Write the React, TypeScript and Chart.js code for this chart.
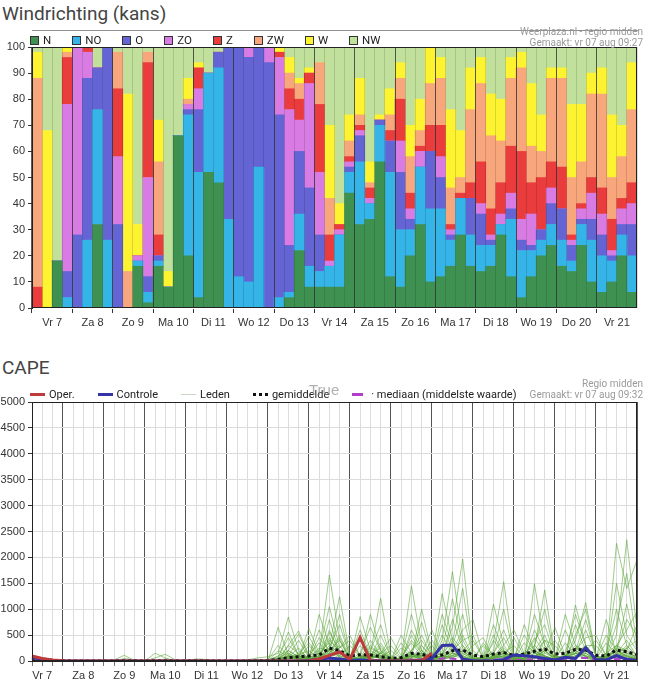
import React, { useEffect, useRef } from "react";
import { Chart, registerables } from "chart.js";

Chart.register(...registerables);

// ---------- shared axis labels ----------
const DAYS = ["Vr 7", "Za 8", "Zo 9", "Ma 10", "Di 11", "Wo 12", "Do 13", "Vr 14", "Za 15", "Zo 16", "Ma 17", "Di 18", "Wo 19", "Do 20", "Vr 21"];
const HOURS = ["00", "06", "12", "18"];

// ---------- Windrichting (kans), 4 bars per day, percent ----------
const WIND_NAMES = ["N", "NO", "O", "ZO", "Z", "ZW", "W", "NW"];
const WIND_N = [0,0,18,0, 0,0,32,0, 0,0,16,2, 16,8,66,20, 4,52,48,0, 0,0,0,0, 0,4,22,8, 8,8,8,44, 32,34,56,12, 8,20,32,10, 12,16,28,16, 14,16,28,12, 4,12,20,24, 16,14,24,10, 6,10,20,6];
const WIND_NO = [0,0,0,4, 0,26,44,26, 0,0,2,4, 2,0,0,54, 48,38,44,34, 12,10,54,0, 4,2,14,8, 6,8,20,8, 24,6,14,40, 22,10,22,28, 26,10,14,12, 10,8,4,22, 18,10,6,8, 10,4,8,16, 14,8,8,14];
const WIND_O = [0,0,0,10, 28,62,16,74, 32,0,0,6, 2,0,0,2, 24,0,6,66, 88,86,46,94, 70,18,24,30, 14,0,0,2, 10,0,2,12, 22,4,0,22, 12,2,0,14, 12,2,0,4, 4,2,4,8, 12,6,2,8, 8,2,4,12];
const WIND_ZO = [0,0,0,64, 72,10,0,0, 26,0,2,38, 0,0,0,2, 8,0,0,0, 0,4,0,6, 22,52,12,40, 24,2,2,2, 2,2,0,0, 12,4,6,0, 8,2,0,0, 4,2,4,6, 8,12,0,6, 0,2,4,10, 8,2,6,8];
const WIND_Z = [8,0,0,18, 0,2,0,0, 26,0,0,44, 8,0,0,0, 8,0,0,0, 0,0,0,0, 2,8,8,4, 26,10,2,2, 2,4,0,4, 16,6,2,10, 12,2,2,6, 16,10,12,18, 26,12,20,10, 16,2,2,6, 10,12,4,8];
const WIND_ZW = [80,0,0,2, 0,0,0,0, 14,14,0,4, 28,0,0,2, 0,0,0,0, 0,0,0,0, 0,6,6,0, 16,14,0,6, 4,2,0,6, 8,14,6,16, 18,14,6,28, 30,28,16,26, 32,14,10,32, 34,22,16,32, 36,16,16,28];
const WIND_W = [10,68,0,2, 0,0,0,0, 0,68,12,0, 16,6,0,8, 2,0,0,0, 0,0,0,0, 2,6,2,2, 0,28,8,10, 14,8,2,10, 6,12,12,14, 8,30,18,16, 10,16,16,8, 6,24,14,4, 4,28,22,8, 10,24,12,18];
const WIND_NW = [2,32,82,0, 0,0,8,0, 2,18,68,2, 28,86,34,12, 6,10,2,0, 0,0,0,0, 0,4,12,8, 6,30,60,26, 12,44,26,16, 6,30,20,0, 4,24,32,8, 4,18,20,4, 2,14,26,8, 8,22,22,10, 8,26,30,6];
const WIND_SERIES = [WIND_N, WIND_NO, WIND_O, WIND_ZO, WIND_Z, WIND_ZW, WIND_W, WIND_NW];
const WIND_COLORS = ["#3f9152", "#35b4e8", "#6464d4", "#d87ce4", "#ea3c3c", "#f7a77b", "#fdf330", "#c0e09c"];

// ---------- CAPE, 6-hourly from Vr 7 06u ----------
const CAPE_OPER = [95,50,20,5, 0,0,0,0, 0,0,0,0, 0,0,0,0, 0,0,0,0, 0,0,0,0, 0,0,0,0, 40,110,175,30, 457,5,0,0, 0,0,10,150, null,null,null,null, null,null,null,null, null,null,null,null, null,null,null,null, null,null,null,null];
const CAPE_CONTROLE = [70,40,15,5, 0,0,0,0, 0,0,0,0, 0,0,0,0, 0,0,0,0, 0,0,0,0, 0,0,0,10, 30,60,40,10, 20,10,5,0, 0,5,20,50, 300,310,40,5, 0,5,30,116, 100,84,50,20, 70,50,258,30, 20,103,30,15];
const CAPE_GEMIDDELDE = [60,30,12,4, 2,2,2,2, 2,8,3,2, 10,12,3,2, 5,4,1,1, 1,1,6,10, 30,64,84,97, 116,245,200,97, 122,116,84,52, 64,148,129,84, 116,200,212,116, 84,135,161,110, 135,187,232,135, 148,225,212,110, 97,212,180,122];
const CAPE_MEDIAAN = [50,20,5,0, 0,0,0,0, 0,0,0,0, 0,0,0,0, 0,0,0,0, 0,0,0,0, 0,0,0,10, 20,40,30,10, 20,20,15,5, 10,30,25,15, 50,45,30,10, 10,25,30,15, 20,35,40,20, 25,50,64,20, 15,40,45,20];
const CAPE_LEDEN = [
  [90,40,10,0,0,0,0,0,0,0,0,0,0,0,0,0,0,0,0,0,0,0,0, 0,650,120,40, 300,80,150,300, 20,60,120,250, 40,10,500,150, 30,90,450,200, 50,20,100,300, 600,150,80,200, 30,350,100,60, 20,90,250,180, 60],
  [70,30,5,0,0,0,0,0,0,0,0,0,0,0,0,0,0,0,0,0,0,20,60, 80,150,850,200, 60,450,200,100, 300,80,40,150, 20,60,200,400, 100,30,150,500, 80,10,60,150, 40,700,200,90, 20,80,700,200, 50,30,300,150, 80],
  [100,50,10,0,0,0,0,0,20,110,10,0,0,0,0,0,0,0,0,0,0,0,0, 0,40,300,580, 100,50,600,150, 30,450,100,60, 0,40,120,80, 400,100,60,200, 30,0,400,120, 50,20,1490,300, 60,40,200,800, 100,20,150,400, 90],
  [60,20,5,0,0,0,0,0,0,0,0,0,0,0,0,0,0,0,0,0,0,0,10, 20,300,100,60, 630,150,80,200, 0,50,400,100, 30,0,60,150, 20,900,300,100, 10,40,150,450, 80,30,250,1370, 100,20,150,300, 300,60,200,100, 30],
  [80,30,10,0,0,0,0,0,0,0,0,0,150,60,0,0,0,0,0,0,0,0,0, 0,20,200,80, 40,900,300,60, 10,100,60,500, 80,20,150,60, 0,200,1200,300, 40,0,80,200, 20,100,450,150, 650,100,50,200, 30,350,120,60, 20],
  [110,60,20,0,0,0,0,0,0,0,0,0,0,0,0,0,0,0,0,0,0,0,30, 0,60,560,100, 20,150,1660,400, 50,20,150,80, 200,50,100,30, 60,150,350,1400, 100,30,50,100, 10,60,200,500, 40,900,300,100, 20,150,1000,300, 100],
  [70,30,5,0,0,0,0,0,0,0,0,0,60,130,20,0,0,0,0,0,0,0,0, 10,100,200,520, 80,60,300,1240, 100,30,80,200, 20,250,80,100, 30,60,200,400, 500,60,20,150, 100,30,80,250, 60,20,1080,300, 40,80,200,1100, 200],
  [90,40,10,0,0,0,0,0,0,0,0,0,0,0,0,0,0,0,0,0,0,0,0, 0,200,80,30, 100,200,1050,250, 500,100,20,150, 60,0,600,200, 40,100,150,80, 20,350,100,60, 30,150,300,100, 20,60,400,1127, 100,40,300,200, 700],
  [80,30,10,0,0,0,0,0,0,0,0,0,0,0,0,0,40,30,0,0,0,0,0, 0,0,150,60, 480,100,200,900, 60,20,100,60, 0,80,350,100, 20,50,100,300, 60,20,700,200, 50,20,150,80, 30,100,200,450, 500,100,60,250, 40],
  [60,20,5,0,0,0,0,0,0,0,0,0,0,0,0,0,0,0,0,0,0,0,0, 30,80,450,100, 40,60,450,150, 20,856,200,100, 30,10,200,500, 80,20,250,150, 30,60,200,1000, 100,40,60,200, 20,80,150,100, 60,800,150,80, 30],
  [100,40,10,0,0,0,0,0,0,50,20,0,0,0,0,0,0,0,0,0,0,0,0, 0,30,100,400, 60,20,250,700, 80,40,900,200, 50,20,100,60, 10,700,200,100, 20,80,150,60, 450,100,40,150, 60,20,100,300, 40,100,2270,1400, 1950],
  [70,30,5,0,0,0,0,0,0,0,0,0,0,0,0,0,0,0,0,0,0,0,0, 0,10,300,150, 20,100,400,200, 30,60,150,1210, 100,30,60,200, 50,500,150,60, 10,30,100,250, 60,500,200,80, 20,60,250,150, 30,80,500,2340, 600],
  [80,30,5,0,0,0,0,0,0,0,0,0,0,0,0,0,30,10,0,0,0,0,0, 0,50,80,250, 30,40,200,400, 20,100,60,150, 450,100,40,120, 60,100,800,250, 50,10,60,150, 20,80,900,300, 60,100,50,200, 20,150,300,600, 950],
  [90,40,10,0,0,0,0,0,0,0,0,0,0,0,0,0,0,0,0,0,0,0,0, 0,20,200,80, 60,30,100,250, 400,100,50,80, 20,500,150,40, 10,60,300,900, 100,30,80,200, 40,20,300,1000, 100,50,200,80, 30,60,150,250, 400],
  [60,20,5,0,0,0,0,0,0,0,0,0,0,40,0,0,0,0,0,0,0,0,0, 0,0,60,150, 350,100,80,150, 60,600,100,40, 10,60,1450,300, 40,20,100,200, 400,60,30,100, 60,150,40,200, 400,100,60,150, 20,40,100,200, 60],
  [80,40,10,0,0,0,0,0,0,0,0,0,0,0,0,0,0,0,0,0,0,0,0, 0,40,100,20, 80,600,150,60, 20,150,650,200, 40,10,100,1000, 150,40,60,150, 30,300,60,80, 20,60,150,100, 30,600,150,50, 10,80,200,100, 30],
  [70,30,5,0,0,0,0,0,0,0,20,0,0,0,0,0,0,0,0,0,0,0,0, 0,10,40,120, 200,60,250,100, 30,60,200,700, 60,20,80,150, 600,100,60,200, 40,20,500,150, 60,30,100,60, 20,150,900,300, 60,20,150,80, 20],
  [100,50,10,0,0,0,0,0,0,0,0,0,0,0,0,0,0,0,0,0,0,0,0, 0,30,60,40, 100,350,120,200, 40,20,80,150, 300,60,20,100, 50,1300,400,100, 20,60,150,600, 100,40,80,200, 60,20,500,1000, 80,30,100,300, 80],
  [80,30,5,0,0,0,0,0,0,0,0,0,0,0,0,0,0,0,0,0,0,0,0, 0,0,100,60, 20,80,800,150, 20,40,100,60, 30,350,100,50, 20,400,1725,400, 60,20,100,150, 300,60,200,100, 40,60,150,600, 100,40,80,150, 40],
  [60,20,5,0,0,0,0,0,0,0,0,0,0,0,0,0,0,0,0,0,0,0,0, 0,20,80,100, 40,250,200,80, 10,300,60,100, 20,50,900,200, 60,100,650,1970, 200,40,80,100, 30,350,150,60, 20,100,300,200, 400,100,60,120, 50],
  [90,40,10,0,0,0,0,0,0,0,0,0,0,0,0,0,0,0,0,0,0,0,0, 0,60,150,40, 100,30,550,200, 60,20,300,100, 10,40,400,150, 30,60,200,600, 800,100,40,150, 60,20,600,200, 40,80,150,100, 60,500,200,100, 30],
  [70,30,5,0,0,0,0,0,0,0,0,0,0,0,0,0,0,0,0,0,0,0,0, 0,0,40,100, 60,150,350,100, 40,60,250,150, 30,20,100,750, 100,40,150,100, 300,450,60,200, 40,100,400,700, 100,40,80,150, 20,60,1500,500, 200],
  [80,40,10,0,0,0,0,0,0,0,0,0,0,0,0,0,0,0,0,0,0,0,0, 0,30,80,60, 20,100,150,500, 60,30,100,350, 50,10,60,300, 80,150,100,60, 20,40,1100,300, 60,20,150,400, 60,100,200,80, 30,100,700,1690, 300],
  [60,20,5,0,0,0,0,0,0,0,0,0,0,0,0,0,0,0,0,0,0,0,0, 0,10,60,30, 40,60,100,450, 20,40,60,300, 20,40,150,100, 300,60,100,200, 40,20,350,1530, 100,40,60,400, 300,60,100,200, 40,60,200,800, 500],
];

const WIND_SLOTS = DAYS.flatMap((d) => HOURS.map((h) => `${d} ${h}u`));
const CAPE_TIMES = CAPE_CONTROLE.map((_, i) => `${DAYS[Math.floor((i + 1) / 4)] ?? "Za 22"} ${HOURS[(i + 1) % 4]}u`);

const AXIS_FONT = { family: "'Liberation Sans', Arial, sans-serif", size: 11 };

const framePlugin = {
  id: "frame",
  afterDraw(chart: any) {
    const { ctx, chartArea: a } = chart;
    ctx.save();
    ctx.strokeStyle = "#222";
    ctx.lineWidth = 1;
    ctx.strokeRect(Math.round(a.left) + 0.5, Math.round(a.top) + 0.5, Math.round(a.right - a.left) - 1, Math.round(a.bottom - a.top) - 1);
    ctx.restore();
  },
};

const infoStyle: React.CSSProperties = {
  position: "absolute",
  right: 5,
  fontSize: 10,
  color: "#9a9a9a",
  textAlign: "right",
  lineHeight: "11px",
  fontFamily: "Roboto, sans-serif",
};

function BoxItem({ color, label }: { color: string; label: string }) {
  return (
    <div style={{ display: "flex", alignItems: "center", marginRight: 21 }}>
      <div style={{ width: 7, height: 7, background: color, border: "1px solid #333", marginRight: 4 }} />
      <span>{label}</span>
    </div>
  );
}

function LineItem({ sample, label }: { sample: React.ReactNode; label: string }) {
  return (
    <div style={{ display: "flex", alignItems: "center", marginRight: 23 }}>
      <div style={{ width: 15, marginRight: 4, display: "flex", alignItems: "center" }}>{sample}</div>
      <span>{label}</span>
    </div>
  );
}

const plainTick = (v: any) => String(v);

export default function App() {
  const windRef = useRef<HTMLCanvasElement>(null);
  const capeRef = useRef<HTMLCanvasElement>(null);

  useEffect(() => {
    const windChart = new Chart(windRef.current as HTMLCanvasElement, {
      type: "bar",
      data: {
        labels: WIND_SLOTS,
        datasets: WIND_NAMES.map((name, i) => ({
          label: name,
          data: WIND_SERIES[i],
          backgroundColor: WIND_COLORS[i],
          borderWidth: 0,
          barPercentage: 1,
          categoryPercentage: 1,
        })),
      },
      options: {
        animation: false,
        responsive: true,
        maintainAspectRatio: false,
        layout: { padding: { top: 17, right: 11, bottom: 2, left: 0 } },
        plugins: { legend: { display: false }, tooltip: { enabled: false } },
        scales: {
          x: {
            stacked: true,
            grid: {
              offset: true,
              z: 1,
              color: (c: any) => (c.index % 4 === 0 ? "rgba(50,50,50,0.8)" : "rgba(0,0,0,0.13)"),
              tickColor: (c: any) => (c.index % 4 === 0 ? "#333" : "rgba(0,0,0,0)"),
              tickLength: 5,
            },
            border: { color: "#222" },
            ticks: {
              autoSkip: false,
              maxRotation: 0,
              minRotation: 0,
              labelOffset: -5,
              padding: 3,
              color: "#333",
              font: AXIS_FONT,
              callback: (_v: any, i: number) => (i % 4 === 2 ? DAYS[Math.floor(i / 4)] : ""),
            },
            afterFit: (s: any) => {
              s.height = 25;
            },
          },
          y: {
            stacked: true,
            min: 0,
            max: 100,
            ticks: { stepSize: 10, padding: 3, color: "#333", font: AXIS_FONT, callback: plainTick },
            grid: { drawOnChartArea: false, tickLength: 4, tickColor: "#333" },
            border: { color: "#222" },
            afterFit: (s: any) => {
              s.width = 32;
            },
          },
        },
      },
      plugins: [framePlugin],
    } as any);

    const members = CAPE_LEDEN.map((m, i) => ({
      label: `Lid ${i + 1}`,
      data: m,
      borderColor: "rgba(90,165,55,0.58)",
      borderWidth: 1,
      pointRadius: 0,
      fill: false,
    }));

    const capeChart = new Chart(capeRef.current as HTMLCanvasElement, {
      type: "line",
      data: {
        labels: CAPE_TIMES,
        datasets: [
          { label: "Oper.", data: CAPE_OPER, borderColor: "#bf3b3b", borderWidth: 3, pointRadius: 0 },
          { label: "Controle", data: CAPE_CONTROLE, borderColor: "#3434a8", borderWidth: 3, pointRadius: 0 },
          { label: "gemiddelde", data: CAPE_GEMIDDELDE, borderColor: "#111", borderWidth: 3, borderDash: [3, 3], pointRadius: 0 },
          { label: "mediaan (middelste waarde)", data: CAPE_MEDIAAN, borderColor: "#b040c8", borderWidth: 2, borderDash: [7, 4], pointRadius: 0 },
          ...members,
        ],
      },
      options: {
        animation: false,
        responsive: true,
        maintainAspectRatio: false,
        layout: { padding: { top: 17, right: 11, bottom: 0, left: 0 } },
        plugins: { legend: { display: false }, tooltip: { enabled: false } },
        elements: { line: { tension: 0 }, point: { radius: 0 } },
        scales: {
          x: {
            grid: {
              color: (c: any) => (c.index % 4 === 3 ? "#555" : "#dcdcdc"),
              tickColor: "#777",
              tickLength: 5,
            },
            border: { color: "#222" },
            ticks: {
              autoSkip: false,
              maxRotation: 0,
              minRotation: 0,
              padding: 3,
              color: "#333",
              font: AXIS_FONT,
              callback: (_v: any, i: number) => (i % 4 === 1 ? DAYS[(i - 1) / 4] : ""),
            },
            afterFit: (s: any) => {
              s.height = 24;
            },
          },
          y: {
            min: 0,
            max: 5000,
            ticks: { stepSize: 500, padding: 3, color: "#333", font: AXIS_FONT, callback: plainTick },
            grid: { color: "#dcdcdc", tickColor: "#333", tickLength: 4 },
            border: { color: "#222" },
            afterFit: (s: any) => {
              s.width = 32;
            },
          },
        },
      },
      plugins: [framePlugin],
    } as any);

    return () => {
      windChart.destroy();
      capeChart.destroy();
    };
  }, []);

  return (
    <div style={{ position: "absolute", left: 0, top: 0, width: 648, height: 685, background: "#fff", overflow: "hidden", fontFamily: "Roboto, sans-serif", color: "#222" }}>
      {/* Windrichting */}
      <div style={{ position: "absolute", left: 2, top: 2, fontSize: 19, color: "#444", lineHeight: "24px" }}>Windrichting (kans)</div>
      <div style={{ position: "absolute", left: 0, top: 30, width: 648, height: 305 }}>
        <canvas ref={windRef} />
      </div>
      <div style={{ ...infoStyle, top: 26 }}>
        Weerplaza.nl - regio midden
        <br />
        Gemaakt: vr 07 aug 09:27
      </div>
      <div style={{ position: "absolute", left: 30, top: 34, display: "flex", fontSize: 11.5, lineHeight: "13px", color: "#222" }}>
        {WIND_NAMES.map((n, i) => (
          <BoxItem key={n} color={WIND_COLORS[i]} label={n} />
        ))}
      </div>

      {/* CAPE */}
      <div style={{ position: "absolute", left: 2, top: 356, fontSize: 19, color: "#444", lineHeight: "24px" }}>CAPE</div>
      <div style={{ position: "absolute", left: 0, top: 385, width: 648, height: 300 }}>
        <canvas ref={capeRef} />
      </div>
      <div style={{ ...infoStyle, top: 378 }}>
        Regio midden
        <br />
        Gemaakt: vr 07 aug 09:32
      </div>
      <div style={{ position: "absolute", left: 30, top: 388, display: "flex", fontSize: 11, lineHeight: "13px", color: "#222" }}>
        <LineItem label="Oper." sample={<div style={{ width: 15, height: 3, background: "#bf3b3b" }} />} />
        <LineItem label="Controle" sample={<div style={{ width: 15, height: 3, background: "#3434a8" }} />} />
        <LineItem label="Leden" sample={<div style={{ width: 15, height: 1, background: "#c9d6c2" }} />} />
        <LineItem label="gemiddelde" sample={<div style={{ width: 15, borderTop: "3px dotted #111" }} />} />
        <LineItem label="· mediaan (middelste waarde)" sample={<div style={{ width: 11, height: 3, background: "#b040c8" }} />} />
      </div>
      <div style={{ position: "absolute", left: 309, top: 381, fontSize: 15, color: "rgba(150,150,150,0.75)", fontFamily: "'Liberation Sans', Arial, sans-serif" }}>True</div>
    </div>
  );
}
